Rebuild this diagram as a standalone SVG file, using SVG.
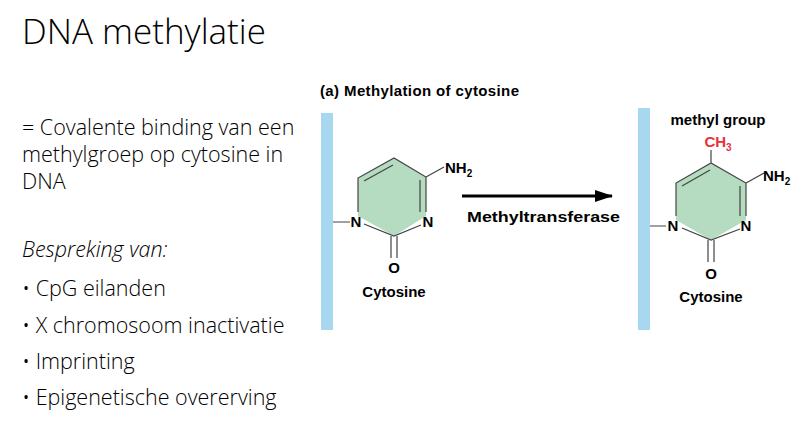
<svg xmlns="http://www.w3.org/2000/svg" width="802" height="424" viewBox="0 0 802 424">
<style>
.t{font-family:"Open Sans","Liberation Sans",sans-serif;font-weight:300;fill:#000}
.b{font-family:"Liberation Sans",Arial,sans-serif;font-weight:bold;font-size:15px;fill:#000}
.ring{fill:#b5dcc0;stroke:none}
.ln{stroke:#444;stroke-width:1.2;fill:none}
.bar{fill:#a8d8f0}
</style>
<defs><marker id="ah" markerWidth="18" markerHeight="12" refX="17" refY="6" orient="auto" markerUnits="userSpaceOnUse"><path d="M0,0L18,6L0,12z" fill="#000"/></marker></defs>
<rect width="802" height="424" fill="#fff"/>
<text class="t" x="22" y="44" font-size="35">DNA methylatie</text>
<g class="t" font-size="21.5">
<text x="22" y="135">= Covalente binding van een</text>
<text x="22" y="162">methylgroep op cytosine in</text>
<text x="22" y="189">DNA</text>
<text x="22" y="257" font-style="italic">Bespreking van:</text>
<text x="22" y="296">• CpG eilanden</text>
<text x="22" y="333">• X chromosoom inactivatie</text>
<text x="22" y="369">• Imprinting</text>
<text x="22" y="405">• Epigenetische overerving</text>
</g>
<text class="b" x="320" y="96" textLength="199">(a) Methylation of cytosine</text>
<g id="left">
<rect class="bar" x="321" y="113" width="12" height="217"/>
<polygon class="ring" points="394,158 426,177 426,216 394,236 358,216 358,178"/>
<path class="ln" d="M358,212 V178 L394,158 L426,177 V212 M421,225 L394,236 L364,224 M364,181 L393,165 M420,180 L420,212 M426,177 L444,167 M391,236 V258 M397,236 V258 M333,222 H350"/>
<text class="b" x="356" y="227" text-anchor="middle">N</text>
<text class="b" x="428" y="227" text-anchor="middle">N</text>
<text class="b" x="445" y="173">NH<tspan font-size="10" dy="4">2</tspan></text>
<text class="b" x="394" y="273" text-anchor="middle">O</text>
<text class="b" x="394" y="297" text-anchor="middle">Cytosine</text>
</g>
<g id="connectors">
<line x1="462" y1="196" x2="612" y2="196" stroke="#000" stroke-width="3" marker-end="url(#ah)"/>
<text class="b" x="467" y="222" font-size="17" textLength="153" lengthAdjust="spacingAndGlyphs">Methyltransferase</text>
</g>
<g id="right">
<rect class="bar" x="638" y="108" width="12" height="222"/>
<polygon class="ring" points="711,163 746,183 746,220 711,240 676,220 676,183"/>
<path class="ln" d="M676,216 V183 L711,163 L746,183 V216 M740,229 L711,240 L682,228 M682,186 L710,170 M740,186 L740,216 M746,183 L764,173 M711,163 V150 M708,240 V262 M714,240 V262 M650,226 H666"/>
<text class="b" x="673" y="231" text-anchor="middle">N</text>
<text class="b" x="746" y="231" text-anchor="middle">N</text>
<text class="b" x="763" y="181">NH<tspan font-size="10" dy="4">2</tspan></text>
<text class="b" x="718" y="125" text-anchor="middle">methyl group</text>
<text class="b" x="718" y="147" text-anchor="middle" style="fill:#e8303a">CH<tspan font-size="10" dy="4">3</tspan></text>
<text class="b" x="711" y="279" text-anchor="middle">O</text>
<text class="b" x="711" y="302" text-anchor="middle">Cytosine</text>
</g>
</svg>
